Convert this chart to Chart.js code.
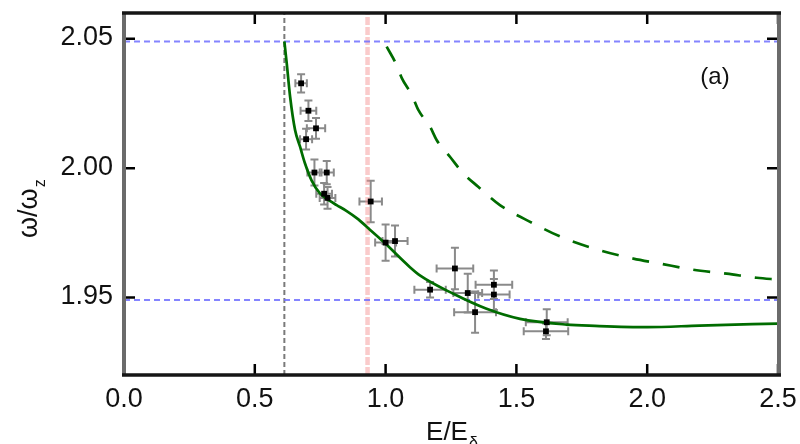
<!DOCTYPE html>
<html>
<head>
<meta charset="utf-8">
<script src="https://cdn.jsdelivr.net/npm/chart.js@4.4.1/dist/chart.umd.min.js"></script>
<style>
	html, body { margin: 0; padding: 0; background: #fff; }
	#wrap { width: 800px; height: 444px; }
</style>
</head>
<body>
<div id="wrap"><canvas id="myChart" width="800" height="444"></canvas></div>
<script>
// measured points with error bars
const pointE = [0.677, 0.705, 0.734, 0.696, 0.728, 0.775, 0.765, 0.778, 0.943, 1.000, 1.036, 1.265, 1.170, 1.314, 1.414, 1.414, 1.342, 1.616, 1.613]
const pointW = [2.0328, 2.0222, 2.0154, 2.0112, 1.9983, 1.9983, 1.9901, 1.9885, 1.9871, 1.9712, 1.9718, 1.9612, 1.9530, 1.9517, 1.9549, 1.9511, 1.9443, 1.9404, 1.9369]
const errE   = [0.022, 0.030, 0.035, 0.023, 0.027, 0.027, 0.030, 0.030, 0.043, 0.040, 0.048, 0.070, 0.060, 0.055, 0.070, 0.060, 0.080, 0.080, 0.085]
const errW   = [0.0035, 0.004, 0.004, 0.004, 0.005, 0.0045, 0.0042, 0.0042, 0.008, 0.007, 0.006, 0.008, 0.003, 0.0075, 0.0055, 0.006, 0.008, 0.005, 0.003]

// theory, solid
const solidE = [0.613, 0.622, 0.635, 0.654, 0.673, 0.692, 0.717, 0.749, 0.787, 0.813, 0.85, 0.896, 0.94, 0.99, 1.093, 1.131, 1.259, 1.386, 1.514, 1.692, 1.8, 2.0, 2.2, 2.5]
const solidW = [2.049, 2.0406, 2.0276, 2.0147, 2.0083, 2.0018, 1.9953, 1.9902, 1.9873, 1.9857, 1.9835, 1.9802, 1.9762, 1.9717, 1.9617, 1.9585, 1.9514, 1.9456, 1.9417, 1.9395, 1.9390, 1.9385, 1.9391, 1.9399]

// theory, dashed
const dashE = [1.004, 1.042, 1.062, 1.100, 1.125, 1.170, 1.195, 1.246, 1.297, 1.354, 1.437, 1.565, 1.673, 1.820, 1.947, 2.049, 2.176, 2.304, 2.419, 2.5]
const dashW = [2.0470, 2.0399, 2.0348, 2.0283, 2.0225, 2.0160, 2.0109, 2.0044, 1.9980, 1.9928, 1.9857, 1.9786, 1.9733, 1.9682, 1.9650, 1.9631, 1.9607, 1.9592, 1.9576, 1.9569]

// reference lines
const wLevels = [2.049, 1.949]
const eThreshold = 0.613
const eMarker = 0.931

const xTicks = [0.0, 0.5, 1.0, 1.5, 2.0, 2.5]
const yTicks = [1.95, 2.00, 2.05]
const xRange = [0, 2.5]
const yRange = [1.92, 2.06]

const fontFamily = "'Liberation Sans', Arial, sans-serif"
const green = '#006c00'

const toXY = (xs, ys) => xs.map((x, i) => ({ x: x, y: ys[i] }))

/* error bars under the points */
const errorBars = {
	id: 'errorBars',
	beforeDatasetsDraw(chart) {
		const { ctx, scales: { x, y } } = chart
		ctx.save()
		ctx.strokeStyle = '#8a8a8a'
		ctx.lineWidth = 2
		const cap = 4
		pointE.forEach((e, i) => {
			const px = x.getPixelForValue(e)
			const py = y.getPixelForValue(pointW[i])
			const x0 = x.getPixelForValue(e - errE[i]), x1 = x.getPixelForValue(e + errE[i])
			const y0 = y.getPixelForValue(pointW[i] - errW[i]), y1 = y.getPixelForValue(pointW[i] + errW[i])
			ctx.beginPath()
			ctx.moveTo(x0, py); ctx.lineTo(x1, py)
			ctx.moveTo(px, y0); ctx.lineTo(px, y1)
			ctx.moveTo(x0, py - cap); ctx.lineTo(x0, py + cap)
			ctx.moveTo(x1, py - cap); ctx.lineTo(x1, py + cap)
			ctx.moveTo(px - cap, y0); ctx.lineTo(px + cap, y0)
			ctx.moveTo(px - cap, y1); ctx.lineTo(px + cap, y1)
			ctx.stroke()
		})
		ctx.restore()
	}
}

/* frame, inward ticks, tick labels and axis titles */
const frame = {
	id: 'frame',
	afterDraw(chart) {
		const { ctx, chartArea: a, scales: { x, y } } = chart
		ctx.save()

		// ticks
		ctx.strokeStyle = '#000'
		ctx.lineWidth = 2.5
		const tl = 11
		ctx.beginPath()
		for (const v of xTicks) {
			const px = x.getPixelForValue(v)
			ctx.moveTo(px, a.bottom); ctx.lineTo(px, a.bottom - tl)
			ctx.moveTo(px, a.top); ctx.lineTo(px, a.top + tl)
		}
		for (const v of yTicks) {
			const py = y.getPixelForValue(v)
			ctx.moveTo(a.left, py); ctx.lineTo(a.left + tl, py)
			ctx.moveTo(a.right, py); ctx.lineTo(a.right - tl, py)
		}
		ctx.stroke()

		// box
		ctx.lineWidth = 4
		ctx.strokeStyle = '#6b6b6b'
		ctx.beginPath()
		ctx.moveTo(a.left, a.top); ctx.lineTo(a.left, a.bottom)
		ctx.moveTo(a.right + 1, a.top); ctx.lineTo(a.right + 1, a.bottom)
		ctx.stroke()
		ctx.lineWidth = 3.5
		ctx.strokeStyle = '#161616'
		ctx.beginPath()
		ctx.moveTo(a.left - 2, a.top); ctx.lineTo(a.right + 3, a.top)
		ctx.moveTo(a.left - 2, a.bottom); ctx.lineTo(a.right + 3, a.bottom)
		ctx.stroke()

		// tick labels
		ctx.fillStyle = '#111'
		ctx.font = '27px ' + fontFamily
		ctx.textAlign = 'right'
		ctx.textBaseline = 'middle'
		for (const v of yTicks) ctx.fillText(v.toFixed(2), a.left - 11, y.getPixelForValue(v) - 1)
		ctx.textAlign = 'center'
		ctx.textBaseline = 'alphabetic'
		for (const v of xTicks) ctx.fillText(v.toFixed(1), x.getPixelForValue(v), a.bottom + 32)

		// x title
		ctx.textAlign = 'left'
		ctx.font = '26px ' + fontFamily
		const xt = 'E/E'
		const xw = ctx.measureText(xt).width
		const xStart = (a.left + a.right) / 2 - xw / 2 - 4
		ctx.fillText(xt, xStart, 440)
		ctx.font = '16px ' + fontFamily
		ctx.fillText('δ', xStart + xw + 1, 448)

		// y title
		ctx.save()
		ctx.translate(37, 238)
		ctx.rotate(-Math.PI / 2)
		ctx.font = '27px ' + fontFamily
		const yt = 'ω/ω'
		const yw = ctx.measureText(yt).width
		ctx.fillText(yt, 0, 0)
		ctx.font = '16px ' + fontFamily
		ctx.fillText('z', yw + 1, 8)
		ctx.restore()

		// panel label
		ctx.font = '24px ' + fontFamily
		ctx.textAlign = 'center'
		ctx.textBaseline = 'middle'
		ctx.fillText('(a)', 715, 77)

		ctx.restore()
	}
}

const ctx = document.getElementById('myChart').getContext('2d')
const chart = new Chart(ctx, {
	type: 'scatter',
	data: {
		datasets: [
			{
				label: 'data',
				data: toXY(pointE, pointW),
				pointStyle: 'rect',
				pointRadius: 4.1,
				backgroundColor: '#000',
				borderColor: '#000',
				borderWidth: 0,
				showLine: false
			},
			{
				label: 'solid',
				data: toXY(solidE, solidW),
				showLine: true,
				borderColor: green,
				borderWidth: 2.7,
				pointRadius: 0,
				cubicInterpolationMode: 'monotone'
			},
			{
				label: 'dashed',
				data: toXY(dashE, dashW),
				showLine: true,
				borderColor: green,
				borderWidth: 2.7,
				borderDash: [17, 14],
				pointRadius: 0,
				cubicInterpolationMode: 'monotone'
			},
			...wLevels.map(w => ({
				label: 'level',
				data: toXY(xRange, [w, w]),
				showLine: true,
				borderColor: 'rgba(110, 110, 255, 0.85)',
				borderWidth: 2,
				borderDash: [6, 4],
				pointRadius: 0
			})),
			{
				label: 'threshold',
				data: toXY([eThreshold, eThreshold], yRange),
				showLine: true,
				borderColor: '#7a7a7a',
				borderWidth: 2,
				borderDash: [5, 3],
				pointRadius: 0
			},
			{
				label: 'marker',
				data: toXY([eMarker, eMarker], yRange),
				showLine: true,
				borderColor: 'rgba(245, 140, 140, 0.45)',
				borderWidth: 4.5,
				borderDash: [8, 2],
				pointRadius: 0
			}
		]
	},
	options: {
		responsive: false,
		animation: false,
		devicePixelRatio: 1,
		layout: {
			padding: { left: 124, right: 22, top: 13, bottom: 69 }
		},
		scales: {
			x: { type: 'linear', min: xRange[0], max: xRange[1], display: false },
			y: { type: 'linear', min: yRange[0], max: yRange[1], display: false }
		},
		plugins: {
			legend: { display: false },
			tooltip: { enabled: false }
		}
	},
	plugins: [errorBars, frame]
})
</script>
</body>
</html>
